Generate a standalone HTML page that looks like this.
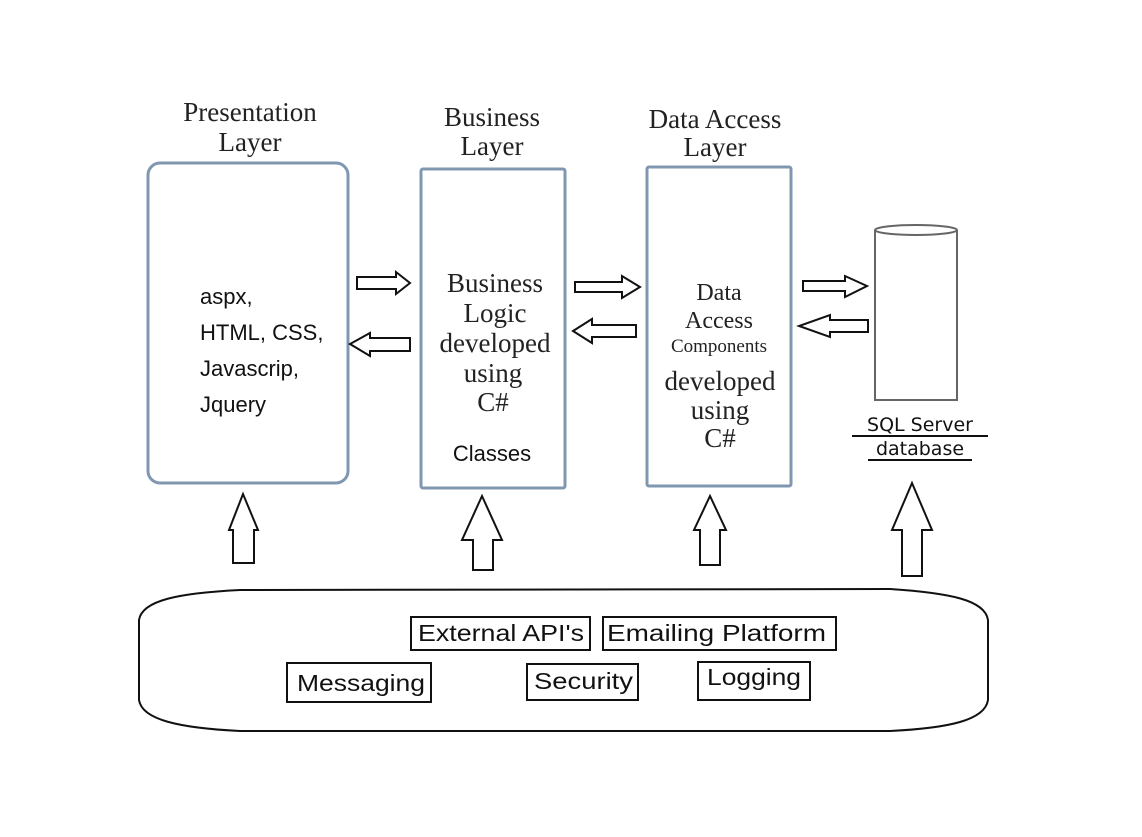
<!DOCTYPE html>
<html><head><meta charset="utf-8"><style>html,body{margin:0;padding:0;background:#fff}</style></head>
<body>
<svg width="1142" height="832" viewBox="0 0 1142 832" xmlns="http://www.w3.org/2000/svg">
<rect width="1142" height="832" fill="#fff"/>
<g font-family="Liberation Serif, serif" font-size="27" fill="#222" text-anchor="middle">
<text x="250" y="121">Presentation</text><text x="250" y="151">Layer</text>
<text x="492" y="126">Business</text><text x="492" y="155">Layer</text>
<text x="715" y="128">Data Access</text><text x="715" y="156">Layer</text>
</g>
<g fill="none" stroke="#8097b2" stroke-width="3">
<rect x="148" y="163" width="200" height="320" rx="12"/>
<rect x="421" y="169" width="144" height="319" rx="2"/>
<rect x="647" y="167" width="144" height="319" rx="2"/>
</g>
<g font-family="Liberation Sans, sans-serif" font-size="22" fill="#111">
<text x="200" y="304">aspx,</text>
<text x="200" y="340">HTML, CSS,</text>
<text x="200" y="376">Javascrip,</text>
<text x="200" y="412">Jquery</text>
<text x="492" y="461" text-anchor="middle">Classes</text>
</g>
<g font-family="Liberation Serif, serif" font-size="27" fill="#222" text-anchor="middle">
<text x="495" y="292">Business</text>
<text x="495" y="322">Logic</text>
<text x="495" y="352">developed</text>
<text x="493" y="382">using</text>
<text x="493" y="411">C#</text>
<text x="719" y="300" font-size="24">Data</text>
<text x="719" y="328" font-size="24">Access</text>
<text x="719" y="352" font-size="19">Components</text>
<text x="720" y="390">developed</text>
<text x="720" y="419">using</text>
<text x="720" y="447">C#</text>
</g>
<!-- cylinder -->
<g fill="#fff" stroke="#666" stroke-width="2">
<path d="M875 230 L875 400 L957 400 L957 230"/>
<ellipse cx="916" cy="230" rx="41" ry="5"/>
</g>
<g font-family="DejaVu Sans, sans-serif" font-size="19" fill="#111" text-anchor="middle">
<text x="920" y="431">SQL Server</text>
<text x="920" y="455">database</text>
</g>
<line x1="852" y1="436" x2="988" y2="436" stroke="#111" stroke-width="2"/>
<line x1="868" y1="460" x2="972" y2="460" stroke="#111" stroke-width="2"/>
<!-- horizontal arrows -->
<g fill="#fff" stroke="#111" stroke-width="2">
<path d="M357 277 H396 V272 L410 283 L396 294 V289 H357 Z"/>
<path d="M410 338 H370 V333 L350 344 L370 356 V351 H410 Z"/>
<path d="M575 282 H622 V276 L640 287 L622 298 V292 H575 Z"/>
<path d="M636 325 H592 V319 L573 331 L592 343 V337 H636 Z"/>
<path d="M803 281 H845 V276 L867 286 L845 297 V291 H803 Z"/>
<path d="M868 320 H830 V315 L799 326 L830 337 V332 H868 Z"/>
<!-- up arrows -->
<path d="M233 563 V530 H229 L243 494 L258 530 H254 V563 Z"/>
<path d="M473 570 V540 H462 L482 496 L502 540 H493 V570 Z"/>
<path d="M700 565 V530 H694 L710 496 L726 530 H720 V565 Z"/>
<path d="M902 576 V530 H892 L912 483 L932 530 H922 V576 Z"/>
</g>
<!-- bottom container -->
<path d="M240 590 L890 589 C950 593 985 600 988 620 L988 700 C985 720 950 728 890 731 L240 731 C180 728 142 720 139 700 L139 620 C142 600 180 593 240 590 Z" fill="#fff" stroke="#111" stroke-width="2"/>
<g fill="#fff" stroke="#111" stroke-width="2">
<rect x="411" y="617" width="179" height="33"/>
<rect x="603" y="617" width="233" height="33"/>
<rect x="287" y="663" width="144" height="39"/>
<rect x="527" y="664" width="111" height="36"/>
<rect x="698" y="662" width="112" height="38"/>
</g>
<g font-family="Liberation Sans Narrow, Liberation Sans, sans-serif" font-size="23" fill="#111">
<text x="418" y="641" textLength="166" lengthAdjust="spacingAndGlyphs">External API's</text>
<text x="607" y="641" textLength="219" lengthAdjust="spacingAndGlyphs">Emailing Platform</text>
<text x="297" y="691" textLength="128" lengthAdjust="spacingAndGlyphs">Messaging</text>
<text x="534" y="689" textLength="99" lengthAdjust="spacingAndGlyphs">Security</text>
<text x="707" y="685" textLength="94" lengthAdjust="spacingAndGlyphs">Logging</text>
</g>
</svg>
</body></html>
